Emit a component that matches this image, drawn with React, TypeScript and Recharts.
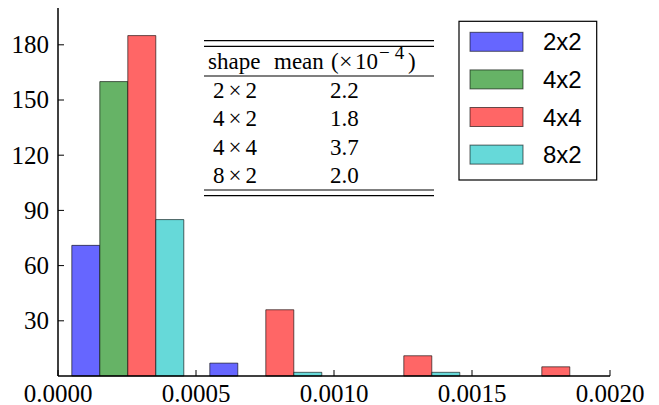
import React from 'react';
import { BarChart, Bar, XAxis, YAxis } from 'recharts';

// histogram bins (centres) and counts per shape
const binCenters = [0.00025, 0.00075, 0.00125, 0.00175];
const counts2x2 = [71, 7, 0, 0];
const counts4x2 = [160, 0, 0, 0];
const counts4x4 = [185, 36, 11, 5];
const counts8x2 = [85, 2, 2, 0];

const seriesNames = ['2x2', '4x2', '4x4', '8x2'];
const seriesColors = ['#6666ff', '#66b366', '#ff6666', '#66d9d9'];

const xTicks = [0, 0.0005, 0.001, 0.0015, 0.002];
const xTopTicks = [0.0005, 0.001, 0.0015];
const yTicks = [30, 60, 90, 120, 150, 180];

const tableShapes = ['2×2', '4×2', '4×4', '8×2'];
const tableMeans = ['2.2', '1.8', '3.7', '2.0'];

const data = binCenters.map((x, i) => ({
  x,
  s2x2: counts2x2[i],
  s4x2: counts4x2[i],
  s4x4: counts4x4[i],
  s8x2: counts8x2[i],
}));
const keys = ['s2x2', 's4x2', 's4x4', 's8x2'];

const W = 659;
const H = 405;
const PLOT_LEFT = 58;
const PLOT_RIGHT = 610;
const PLOT_TOP = 8;
const PLOT_BOTTOM = 376;
const serif = '"Liberation Serif", "Times New Roman", serif';
const sans = '"Liberation Sans", Arial, sans-serif';
const serifStyle = { fontFamily: serif, fontSize: 25 };

const BottomTick = (props: any) => {
  const { x, payload } = props;
  return (
    <g>
      <line x1={x} y1={PLOT_BOTTOM} x2={x} y2={PLOT_BOTTOM - 6} stroke="#000" strokeWidth={1} />
      <text x={x} y={401.5} textAnchor="middle" style={serifStyle} fill="#000">
        {Number(payload.value).toFixed(4)}
      </text>
    </g>
  );
};

const TopTick = (props: any) => {
  const { x } = props;
  return <line x1={x} y1={PLOT_TOP} x2={x} y2={PLOT_TOP + 6} stroke="#000" strokeWidth={1} />;
};

const LeftTick = (props: any) => {
  const { y, payload } = props;
  return (
    <g>
      <line x1={PLOT_LEFT} y1={y} x2={PLOT_LEFT + 6} y2={y} stroke="#000" strokeWidth={1} />
      <text x={PLOT_LEFT - 9} y={y + 8.3} textAnchor="end" style={serifStyle} fill="#000">
        {payload.value}
      </text>
    </g>
  );
};

const RightTick = (props: any) => {
  const { y } = props;
  return <line x1={PLOT_RIGHT} y1={y} x2={PLOT_RIGHT - 6} y2={y} stroke="#000" strokeWidth={1} />;
};

const rowBaselines = [97.8, 126.2, 154.6, 183];
const legendRows = [41.8, 79.4, 117, 154.6];
const tableText = { fontFamily: serif, fontSize: 23 };

export default function App() {
  return (
    <div style={{ position: 'absolute', left: 0, top: 0, width: W, height: H, background: '#fff' }}>
      <BarChart
        width={W}
        height={H}
        data={data}
        margin={{ top: PLOT_TOP, right: W - PLOT_RIGHT, bottom: 0, left: 0 }}
        barCategoryGap="10%"
        barGap={0}
      >
        <XAxis
          dataKey="x"
          type="number"
          domain={[0, 0.002]}
          ticks={xTicks}
          interval={0}
          height={H - PLOT_BOTTOM}
          tickLine={false}
          tick={<BottomTick />}
          axisLine={{ stroke: '#000', strokeWidth: 1.5 }}
        />
        <XAxis
          xAxisId="top"
          orientation="top"
          type="number"
          domain={[0, 0.002]}
          ticks={xTopTicks}
          interval={0}
          height={0}
          tickLine={false}
          tick={<TopTick />}
          axisLine={{ stroke: '#000', strokeWidth: 1.5 }}
        />
        <YAxis
          type="number"
          domain={[0, 200]}
          ticks={yTicks}
          interval={0}
          width={PLOT_LEFT}
          tickLine={false}
          tick={<LeftTick />}
          axisLine={{ stroke: '#000', strokeWidth: 1.5 }}
        />
        <YAxis
          yAxisId="right"
          orientation="right"
          type="number"
          domain={[0, 200]}
          ticks={yTicks}
          interval={0}
          width={0}
          tickLine={false}
          tick={<RightTick />}
          axisLine={{ stroke: '#000', strokeWidth: 1.5 }}
        />
        {keys.map((k, i) => (
          <Bar
            key={k}
            dataKey={k}
            name={seriesNames[i]}
            fill={seriesColors[i]}
            stroke="rgba(0,0,0,0.6)"
            strokeWidth={1}
            isAnimationActive={false}
          />
        ))}
      </BarChart>
      <svg
        width={W}
        height={H}
        style={{ position: 'absolute', left: 0, top: 0, pointerEvents: 'none' }}
      >
        {/* table */}
        <g stroke="#000" strokeWidth={1.2}>
          <line x1={204} x2={434} y1={40.7} y2={40.7} />
          <line x1={204} x2={434} y1={46.3} y2={46.3} />
          <line x1={204} x2={434} y1={76} y2={76} />
          <line x1={204} x2={434} y1={190} y2={190} />
          <line x1={204} x2={434} y1={195.7} y2={195.7} />
        </g>
        <g fill="#000">
          <text x={208} y={69} style={tableText}>shape</text>
          <text x={274} y={69} style={tableText}>mean</text>
          <text x={331} y={69} style={tableText}>(</text>
          <text x={339} y={69} style={{ ...tableText, fontSize: 24 }}>×</text>
          <text x={355} y={69} style={tableText}>10</text>
          <text x={379} y={59} style={{ ...tableText, fontSize: 19 }} letterSpacing={5}>−4</text>
          <text x={408} y={69} style={tableText}>)</text>
          {tableShapes.map((s, i) => (
            <text key={s} x={213} y={rowBaselines[i]} style={tableText} letterSpacing={4}>{s}</text>
          ))}
          {tableMeans.map((m, i) => (
            <text key={i} x={330} y={rowBaselines[i]} style={tableText}>{m}</text>
          ))}
        </g>
        {/* legend */}
        <rect x={459} y={21.3} width={137.7} height={158.7} fill="#fff" stroke="#000" strokeWidth={1.2} />
        {seriesNames.map((n, i) => (
          <g key={n}>
            <rect
              x={470}
              y={legendRows[i] - 9.5}
              width={53}
              height={19}
              fill={seriesColors[i]}
              stroke="rgba(0,0,0,0.6)"
              strokeWidth={1}
            />
            <text x={543} y={legendRows[i] + 8.6} style={{ fontFamily: sans, fontSize: 24 }} fill="#000">
              {n}
            </text>
          </g>
        ))}
      </svg>
    </div>
  );
}
